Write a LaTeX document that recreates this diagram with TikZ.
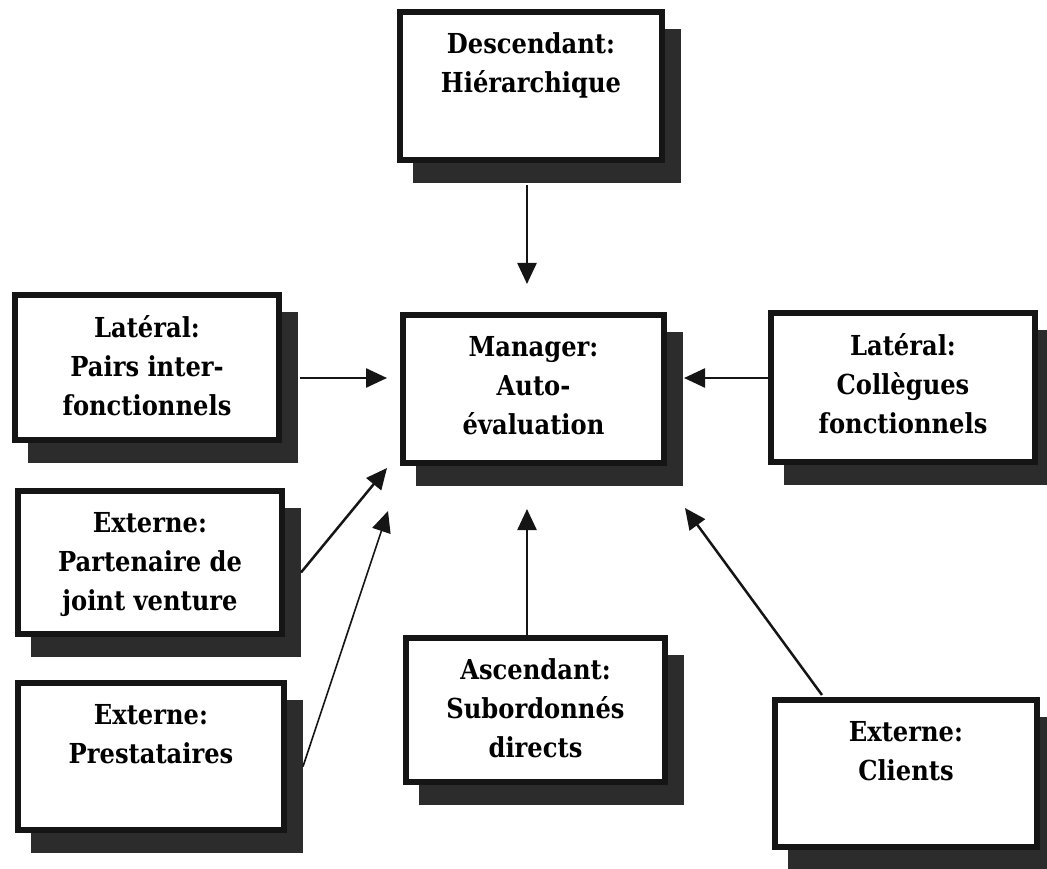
\documentclass[tikz,border=0pt]{standalone}
\usepackage{fontspec}
\setmainfont{DejaVu Serif}[FakeStretch=0.88]
\usetikzlibrary{arrows.meta,shadows,calc}
\definecolor{ink}{HTML}{151515}
\definecolor{shade}{HTML}{2C2C2C}
\tikzset{
  panel/.style={draw=ink, line width=6pt, fill=white, inner sep=0pt,
    general shadow={fill=shade, draw=shade, line width=6pt,
      shadow xshift=16pt, shadow yshift=-20pt}},
  feed/.style={draw=ink, line width=2.5pt, -{Triangle[length=21pt,width=19pt]}},
}
% \panelbox{name}{x1}{y1}{x2}{y2}{text}: outer edges in px, y growing downwards
\newcommand\panelbox[6]{%
  \node[panel] (#1) at ({(#2+#4)/2},{(#3+#5)/2})
   {\parbox[c][\dimexpr #5pt-#3pt-6pt\relax][t]{\dimexpr #4pt-#2pt-6pt\relax}%
     {\centering\bfseries\fontsize{27.5}{39}\selectfont\vspace*{21pt}#6\par}};}
\begin{document}
\begin{tikzpicture}[x=1pt,y=-1pt]
\useasboundingbox (0,0) rectangle (1047,869);

\panelbox{desc}{397}{9}{665}{163}{Descendant:\\Hiérarchique}
\panelbox{mgr}{400}{312}{667}{466}{Manager:\\Auto-\\évaluation}
\panelbox{pairs}{12}{292}{282}{443}{Latéral:\\Pairs inter-\\fonctionnels}
\panelbox{coll}{768}{310}{1038}{465}{Latéral:\\Collègues\\fonctionnels}
\panelbox{part}{15}{488}{285}{637}{Externe:\\Partenaire de\\joint venture}
\panelbox{prest}{15}{680}{287}{833}{Externe:\\Prestataires}
\panelbox{asc}{403}{635}{668}{785}{Ascendant:\\Subordonnés\\directs}
\panelbox{cli}{772}{697}{1040}{850}{Externe:\\Clients}

% arrow tips, short of the central box
\coordinate (tD) at (527,284);
\coordinate (tP) at (387,378);
\coordinate (tC) at (684,378);
\coordinate (tJ) at (387,468);
\coordinate (tS) at (388,511);
\coordinate (tA) at (527,509);
\coordinate (tK) at (685,508);

\draw[feed] ($(desc.south -| tD)+(0,22)$) -- (tD);
\draw[feed] ($(pairs.east |- tP)+(18,0)$) -- (tP);
\draw[feed] (coll.west |- tC) -- (tC);
\draw[feed] ($(part.east)+(16,10)$) -- (tJ);
\draw[feed, line width=1.6pt] ($(prest.east)+(16,10)$) -- (tS);
\draw[feed] (asc.north -| tA) -- (tA);
\draw[feed] ($(cli.north west)+(50,-2)$) -- (tK);
\end{tikzpicture}
\end{document}
